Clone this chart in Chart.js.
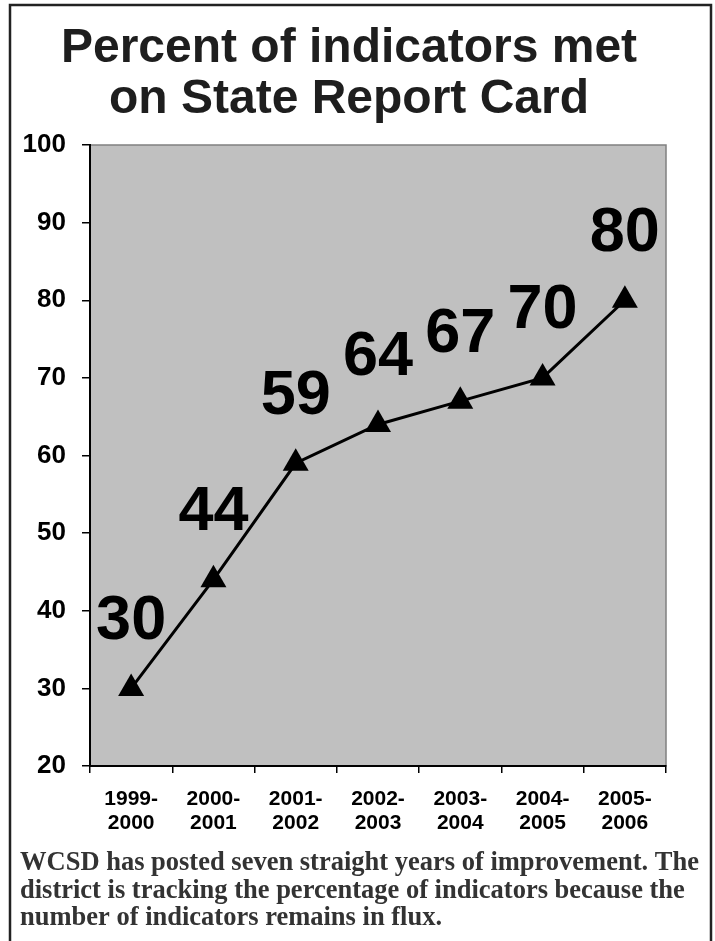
<!DOCTYPE html>
<html>
<head>
<meta charset="utf-8">
<script src="https://cdn.jsdelivr.net/npm/chart.js@4"></script>
<style>
  html, body { margin: 0; padding: 0; background: #fff; }
  #wrap { width: 715px; height: 941px; position: relative; }
</style>
</head>
<body>
<div id="wrap"><canvas id="indicatorsChart"></canvas></div>
<script>
const years = [['1999-', '2000'], ['2000-', '2001'], ['2001-', '2002'], ['2002-', '2003'],
               ['2003-', '2004'], ['2004-', '2005'], ['2005-', '2006']];
const percentMet = [30, 44, 59, 64, 67, 70, 80];
const yTicks = [20, 30, 40, 50, 60, 70, 80, 90, 100];
const titleLines = ['Percent of indicators met', 'on State Report Card'];
const captionLines = [
    'WCSD has posted seven straight years of improvement. The',
    'district is tracking the percentage of indicators because the',
    'number of indicators remains in flux.'
];

const SANS = "'Liberation Sans', Arial, sans-serif";
const SERIF = "'Liberation Serif', 'Times New Roman', serif";

// frame, title, caption and the gray plot area
const pagePlugin = {
    id: 'page',
    beforeDraw(chart) {
        const ctx = chart.ctx;
        const a = chart.chartArea;
        ctx.save();
        ctx.fillStyle = '#c0c0c0';
        ctx.fillRect(a.left, a.top, a.right - a.left, a.bottom - a.top);
        ctx.strokeStyle = '#808080';
        ctx.lineWidth = 1.5;
        ctx.strokeRect(a.left, a.top, a.right - a.left, a.bottom - a.top);

        // frame (open at the bottom)
        ctx.strokeStyle = '#222';
        ctx.lineWidth = 2.5;
        ctx.beginPath();
        ctx.moveTo(10, 941);
        ctx.lineTo(10, 5);
        ctx.lineTo(711, 5);
        ctx.lineTo(711, 941);
        ctx.stroke();

        ctx.fillStyle = '#1e1e1e';
        ctx.font = 'bold 48px ' + SANS;
        ctx.textAlign = 'center';
        ctx.textBaseline = 'alphabetic';
        ctx.fillText(titleLines[0], 349, 62);
        ctx.fillText(titleLines[1], 349, 113);

        ctx.fillStyle = '#333';
        ctx.font = 'bold 26.5px ' + SERIF;
        ctx.textAlign = 'left';
        captionLines.forEach((line, i) => ctx.fillText(line, 20, 870 + i * 27.5));
        ctx.restore();
    },
    afterDatasetsDraw(chart) {
        const ctx = chart.ctx;
        const meta = chart.getDatasetMeta(0);
        ctx.save();
        ctx.fillStyle = '#000';
        ctx.font = 'bold 63px ' + SANS;
        ctx.textAlign = 'center';
        ctx.textBaseline = 'middle';
        meta.data.forEach((pt, i) => {
            ctx.fillText(String(percentMet[i]), pt.x, pt.y - 67);
        });
        ctx.restore();
    }
};

const ctx = document.getElementById('indicatorsChart').getContext('2d');
new Chart(ctx, {
    type: 'line',
    data: {
        labels: years,
        datasets: [{
            label: 'Percent of indicators met',
            data: percentMet,
            borderColor: '#000',
            borderWidth: 3,
            backgroundColor: '#000',
            pointStyle: 'triangle',
            pointRadius: 15,
            pointBorderWidth: 0,
            tension: 0,
            fill: false
        }]
    },
    options: {
        responsive: true,
        maintainAspectRatio: false,
        animation: false,
        layout: { padding: { top: 145, right: 49, bottom: 0, left: 0 } },
        plugins: {
            legend: { display: false },
            title: { display: false },
            tooltip: { enabled: false }
        },
        scales: {
            x: {
                offset: true,
                grid: { offset: true, drawOnChartArea: false, drawTicks: true, tickLength: 7, color: '#000', lineWidth: 1.5 },
                border: { color: '#000', width: 2 },
                ticks: {
                    color: '#000',
                    padding: 14,
                    maxRotation: 0,
                    autoSkip: false,
                    font: { family: SANS, size: 21, weight: 'bold', lineHeight: 24 / 21 }
                },
                afterFit(scale) { scale.height = 175; }
            },
            y: {
                min: 20,
                max: 100,
                afterBuildTicks(scale) { scale.ticks = yTicks.map(v => ({ value: v })); },
                grid: { drawOnChartArea: false, drawTicks: true, tickLength: 8, color: '#000', lineWidth: 1.5 },
                border: { color: '#000', width: 2 },
                ticks: {
                    color: '#000',
                    padding: 16,
                    font: { family: SANS, size: 26, weight: 'bold' }
                },
                afterFit(scale) { scale.width = 90; }
            }
        }
    },
    plugins: [pagePlugin]
});
</script>
</body>
</html>
